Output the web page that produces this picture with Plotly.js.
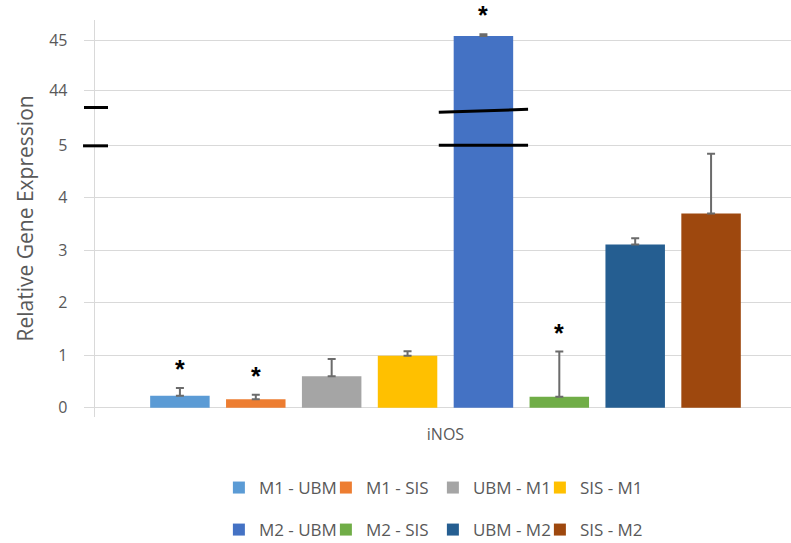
<!DOCTYPE html>
<html>
<head>
<meta charset="utf-8">
<script src="https://cdn.plot.ly/plotly-3.0.1.min.js"></script>
<style>
  html, body { margin: 0; padding: 0; background: #ffffff; }
  #chart { width: 791px; height: 543px; }
</style>
</head>
<body>
<div id="chart"></div>
<script>
// iNOS relative expression per treatment group
const gene = 'iNOS';
const groups = ['M1 - UBM', 'M1 - SIS', 'UBM - M1', 'SIS - M1',
                'M2 - UBM', 'M2 - SIS', 'UBM - M2', 'SIS - M2'];
const expression = [0.23, 0.16, 0.60, 0.99, 45.09, 0.21, 3.11, 3.70];
const errorUp = [0.145, 0.085, 0.33, 0.085, 0.035, 0.86, 0.12, 1.14];
const significant = [true, true, false, false, true, true, false, false];
const barColors = ['#5B9BD5', '#ED7D31', '#A5A5A5', '#FFC000',
                   '#4472C4', '#70AD47', '#255E91', '#9E480E'];

// broken value axis: lower segment 0-5, upper segment 44-45
const lowerTicks = [0, 1, 2, 3, 4, 5];
const upperTicks = [44, 45];

const FONT = 'Open Sans, Noto Sans, sans-serif';
const TEXT_GREY = '#595959';
const GRID = '#d9d9d9';

const splitAt = 0.728;        // domain boundary between the two segments
const barStep = 0.10822;      // slot of one bar inside the category (x units)

const traces = [];
groups.forEach((g, i) => {
  ['y', 'y2'].forEach(ax => {
    traces.push({
      type: 'bar',
      name: g,
      x: [gene],
      y: [expression[i]],
      xaxis: 'x',
      yaxis: ax,
      marker: { color: barColors[i], line: { width: 0 } },
      error_y: {
        type: 'data', symmetric: false,
        array: [errorUp[i]], arrayminus: [0],
        color: '#6b6b6b', thickness: 2, width: 4
      },
      showlegend: ax === 'y',
      legend: i < 4 ? 'legend' : 'legend2',
      legendgroup: g,
      hoverinfo: 'name+y'
    });
  });
});

// significance stars just above the error bars
const annotations = [];
groups.forEach((g, i) => {
  if (!significant[i]) return;
  const upper = expression[i] > 10;
  annotations.push({
    x: (i - 3.5) * barStep, xref: 'x',
    y: expression[i] + errorUp[i], yref: upper ? 'y2' : 'y',
    yshift: 19,
    text: '<b>*</b>', showarrow: false,
    font: { family: 'Liberation Sans, Arial, sans-serif', size: 25, color: '#000000' },
    yanchor: 'middle', xanchor: 'center'
  });
});
annotations.push({
  text: 'Relative Gene Expression', textangle: -90,
  xref: 'paper', yref: 'paper', x: -0.1006, y: 0.5,
  xanchor: 'center', yanchor: 'middle', showarrow: false,
  font: { family: FONT, size: 21, color: TEXT_GREY }
});

// axis-break marks on the value axis and on the tall bar
const breakBar = 4;
const bc = (breakBar - 3.5) * barStep;
const hw = 0.0637;
const black = { color: '#000000', width: 3 };
const shapes = [
  { type: 'line', xref: 'paper', yref: 'y2', x0: -0.0158, x1: 0.0187, y0: 43.656, y1: 43.656, line: black },
  { type: 'line', xref: 'paper', yref: 'y',  x0: -0.0172, x1: 0.0187, y0: 4.99, y1: 4.99, line: black },
  { type: 'line', xref: 'x', yref: 'y2', x0: bc - hw, x1: bc + hw, y0: 43.56, y1: 43.62, line: black },
  { type: 'line', xref: 'x', yref: 'y',  x0: bc - hw, x1: bc + hw, y0: 5.0, y1: 5.0, line: black }
];

const legendBase = {
  orientation: 'h', xref: 'paper', yref: 'container',
  xanchor: 'left', yanchor: 'middle',
  font: { family: FONT, size: 17, color: TEXT_GREY },
  entrywidth: 62, entrywidthmode: 'pixels',
  itemwidth: 30, bgcolor: 'rgba(0,0,0,0)', borderwidth: 0,
  traceorder: 'normal'
};

const layout = {
  width: 791, height: 543,
  margin: { l: 95, r: 0, t: 20, b: 126, autoexpand: false },
  paper_bgcolor: '#ffffff', plot_bgcolor: '#ffffff',
  barmode: 'group', bargap: 0.134, bargroupgap: 0.216,
  xaxis: {
    type: 'category', range: [-0.5, 0.4929],
    showgrid: false, zeroline: false, showline: false,
    ticks: '', ticklabelstandoff: 6,
    tickfont: { family: FONT, size: 16, color: TEXT_GREY },
    fixedrange: true
  },
  yaxis: {
    domain: [0, splitAt], range: [-0.177, 5.33],
    tickvals: lowerTicks, ticks: 'outside', ticklen: 10, tickcolor: GRID,
    tickwidth: 1.3, ticklabelstandoff: 13,
    showgrid: true, gridcolor: GRID, gridwidth: 1.3,
    zeroline: false, showline: true, linecolor: GRID, linewidth: 1.3,
    tickfont: { family: FONT, size: 16, color: TEXT_GREY },
    fixedrange: true
  },
  yaxis2: {
    domain: [splitAt, 1], range: [43.246, 45.41], anchor: 'x',
    tickvals: upperTicks, ticks: 'outside', ticklen: 10, tickcolor: GRID,
    tickwidth: 1.3, ticklabelstandoff: 13,
    showgrid: true, gridcolor: GRID, gridwidth: 1.3,
    zeroline: false, showline: true, linecolor: GRID, linewidth: 1.3,
    tickfont: { family: FONT, size: 16, color: TEXT_GREY },
    fixedrange: true
  },
  legend: Object.assign({}, legendBase, { x: 0.178, y: 0.1013 }),
  legend2: Object.assign({}, legendBase, { x: 0.178, y: 0.0239 }),
  annotations: annotations,
  shapes: shapes,
  showlegend: true
};

Plotly.newPlot('chart', traces, layout, { displayModeBar: false, staticPlot: true });
</script>
</body>
</html>
